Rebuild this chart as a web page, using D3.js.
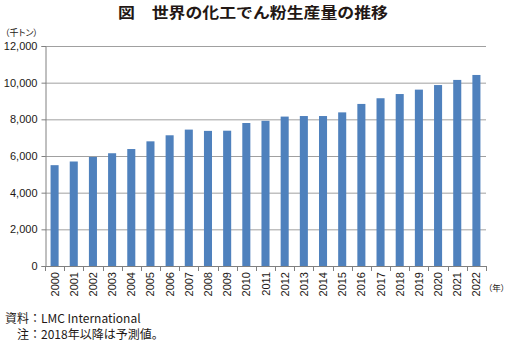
<!DOCTYPE html>
<html>
<head>
<meta charset="utf-8">
<script src="https://cdn.jsdelivr.net/npm/d3@7"></script>
<style>
  html, body { margin: 0; padding: 0; background: #fff; }
  svg { display: block; font-family: "Noto Sans CJK JP", "Noto Sans", sans-serif; }
  .palt { font-feature-settings: "palt" 1; }
</style>
</head>
<body>
<svg id="chart" width="505" height="341"></svg>
<script>
// World modified starch production (thousand tonnes); 2018 onward are forecasts
const years = ["2000","2001","2002","2003","2004","2005","2006","2007","2008","2009","2010","2011",
               "2012","2013","2014","2015","2016","2017","2018","2019","2020","2021","2022"];
const production = [5500, 5700, 5950, 6150, 6380, 6800, 7130, 7440, 7370, 7380, 7800, 7920,
                    8150, 8180, 8180, 8380, 8840, 9150, 9380, 9620, 9870, 10150, 10420];
const yTicks = [0, 2000, 4000, 6000, 8000, 10000, 12000];

const titleText = "図　世界の化工でん粉生産量の推移";
const unitY = "（千トン）";
const unitX = "（年）";
const sourceNote = "資料：LMC International";
const forecastNote = "注：2018年以降は予測値。";

const svg = d3.select("#chart");
const plotLeft = 45, plotRight = 486, plotTop = 46, plotBottom = 266;

const x = d3.scaleBand().domain(years).range([plotLeft, plotRight]).paddingInner(0.58).paddingOuter(0.29);
const y = d3.scaleLinear().domain([0, 12000]).range([plotBottom, plotTop]);

// title (slightly widened to the layout's title width)
svg.append("text").attr("x", 253).attr("y", 17.5).attr("text-anchor", "middle")
  .attr("font-size", 15).attr("font-weight", "bold").attr("fill", "#231815")
  .attr("textLength", 270).attr("lengthAdjust", "spacingAndGlyphs").text(titleText);

// unit label
svg.append("text").attr("class", "palt").attr("x", 5).attr("y", 36).attr("font-size", 9)
  .attr("fill", "#231815").text(unitY);

// horizontal gridlines
svg.append("g").selectAll("line").data(yTicks.filter(d => d > 0)).join("line")
  .attr("x1", plotLeft).attr("x2", plotRight)
  .attr("y1", d => y(d) + 0.5).attr("y2", d => y(d) + 0.5)
  .attr("stroke", "#a0a0a0").attr("stroke-width", 1);

// y axis
const yAxis = svg.append("g").attr("transform", `translate(${plotLeft + 0.5},0)`)
  .call(d3.axisLeft(y).tickValues(yTicks).tickSize(4).tickPadding(4).tickFormat(d3.format(",")));
yAxis.select(".domain").attr("stroke", "#808080");
yAxis.selectAll(".tick line").attr("stroke", "#808080");
yAxis.selectAll(".tick text").attr("font-size", 11).attr("fill", "#231815")
  .attr("font-family", "Liberation Sans, Arial, sans-serif");

// bars
svg.append("g").selectAll("rect").data(years).join("rect")
  .attr("x", d => x(d))
  .attr("width", x.bandwidth())
  .attr("y", (d, i) => y(production[i]))
  .attr("height", (d, i) => y(0) - y(production[i]))
  .attr("fill", "#4f81bd");

// x axis baseline with category dividers
const step = x.step();
const xg = svg.append("g");
xg.append("line").attr("x1", plotLeft).attr("x2", plotRight + 1)
  .attr("y1", plotBottom + 0.5).attr("y2", plotBottom + 0.5).attr("stroke", "#808080");
xg.selectAll("line.div").data(d3.range(years.length + 1)).join("line").attr("class", "div")
  .attr("x1", i => Math.round(plotLeft + i * step) + 0.5).attr("x2", i => Math.round(plotLeft + i * step) + 0.5)
  .attr("y1", plotBottom).attr("y2", plotBottom + 5).attr("stroke", "#808080");

// rotated year labels
xg.selectAll("text").data(years).join("text")
  .attr("transform", d => `translate(${x(d) + x.bandwidth() / 2 + 4},${plotBottom + 6}) rotate(-90)`)
  .attr("text-anchor", "end").attr("font-size", 11).attr("fill", "#231815")
  .attr("font-family", "Liberation Sans, Arial, sans-serif")
  .text(d => d);

svg.append("text").attr("class", "palt").attr("x", 488).attr("y", 291).attr("font-size", 8.5)
  .attr("fill", "#231815").text(unitX);

// notes
svg.append("text").attr("x", 5).attr("y", 323).attr("font-size", 12).attr("fill", "#231815").text(sourceNote);
svg.append("text").attr("x", 17).attr("y", 339).attr("font-size", 12).attr("fill", "#231815").text(forecastNote);
</script>
</body>
</html>
